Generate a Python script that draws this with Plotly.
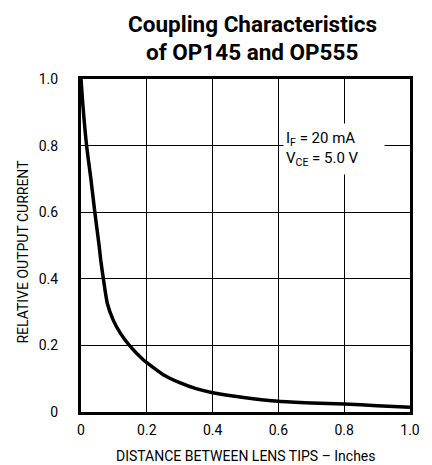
import plotly.graph_objects as go

distance = [0, 0.005, 0.017, 0.03, 0.042, 0.055, 0.06, 0.068, 0.080, 0.098, 0.12,
            0.147, 0.19, 0.2, 0.25, 0.3, 0.35, 0.4, 0.5, 0.6, 0.7, 0.8, 0.9, 1.0]
current = [1.0, 0.93, 0.8, 0.7, 0.6, 0.5, 0.456, 0.4, 0.326, 0.276, 0.236,
           0.2, 0.156, 0.148, 0.112, 0.088, 0.07, 0.058, 0.043, 0.032, 0.027, 0.024, 0.019, 0.014]

tick_vals = [0, 0.2, 0.4, 0.6, 0.8, 1.0]
tick_text = ["0", "0.2", "0.4", "0.6", "0.8", "1.0"]

title_lines = ["Coupling Characteristics", "of OP145 and OP555"]
x_title = "DISTANCE BETWEEN LENS TIPS \u2013 Inches"
y_title = "RELATIVE OUTPUT CURRENT"
conditions = "I<sub>F</sub> = 20 mA<br>V<sub>CE</sub> = 5.0 V"

FONT = "Roboto, Liberation Sans, sans-serif"

fig = go.Figure()
fig.add_trace(go.Scatter(x=distance, y=current, mode="lines",
                         line=dict(color="black", width=3.5, shape="spline", smoothing=0.6),
                         hoverinfo="skip", showlegend=False))

axis_common = dict(range=[0, 1], tickvals=tick_vals, ticktext=tick_text,
                   showgrid=True, gridcolor="black", gridwidth=1.3,
                   showline=True, linecolor="black", linewidth=3, mirror=True,
                   zeroline=False, ticks="", automargin=False,
                   tickfont=dict(family=FONT, size=14, color="black"))

fig.update_xaxes(**axis_common, ticklabelstandoff=3)
fig.update_yaxes(**axis_common, ticklabelstandoff=17)

fig.add_annotation(x=0.77, y=0.79, xref="x", yref="y",
                   text=conditions,
                   showarrow=False, align="left", bgcolor="white",
                   width=96, height=46, borderpad=2,
                   font=dict(family=FONT, size=15, color="black"))

title_y = [1.165, 1.081]
for line, ty in zip(title_lines, title_y):
    fig.add_annotation(x=0.52, y=ty, xref="paper", yref="paper",
                       text=f"<b>{line}</b>", showarrow=False,
                       xanchor="center", yanchor="middle",
                       font=dict(family=FONT, size=22.5, color="black"))

fig.add_annotation(x=0.5, y=-0.132, xref="paper", yref="paper", text=x_title,
                   showarrow=False, xanchor="center", yanchor="middle",
                   font=dict(family=FONT, size=14, color="black"))
fig.add_annotation(x=-0.175, y=0.483, xref="paper", yref="paper", text=y_title,
                   showarrow=False, xanchor="center", yanchor="middle", textangle=-90,
                   font=dict(family=FONT, size=14, color="black"))

# the page adds an 8 px body margin, so the figure is 8 px smaller on each side
fig.update_layout(
    width=424, height=457,
    margin=dict(l=73, r=22, t=71, b=53),
    paper_bgcolor="white", plot_bgcolor="white",
)

fig.write_html("out.html")
